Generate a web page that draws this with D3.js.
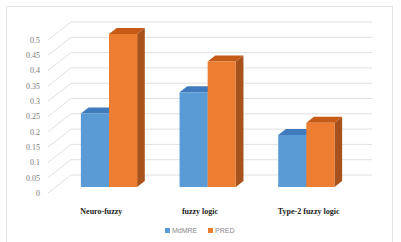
<!DOCTYPE html>
<html><head><meta charset="utf-8">
<script src="https://cdnjs.cloudflare.com/ajax/libs/d3/7.8.5/d3.min.js"></script>
<style>body{margin:0;background:#fff}svg{display:block}</style>
</head><body>
<script>
const categories = ["Neuro-fuzzy", "fuzzy logic", "Type-2 fuzzy logic"];
const seriesNames = ["MdMRE", "PRED"];
const mdmre = [0.24, 0.31, 0.17];
const pred = [0.5, 0.41, 0.21];
const yTicks = [0, 0.05, 0.1, 0.15, 0.2, 0.25, 0.3, 0.35, 0.4, 0.45, 0.5];
const yTickLabels = ["0", "0.05", "0.1", "0.15", "0.2", "0.25", "0.3", "0.35", "0.4", "0.45", "0.5"];

const W = 401, H = 242;
const svg = d3.select("body").append("svg").attr("width", W).attr("height", H);

// chart border
svg.append("rect").attr("x", 6.5).attr("y", 6.5).attr("width", 386).attr("height", 240)
  .attr("fill", "#fff").attr("stroke", "#e6e6e6");

const DX = 23, DY = 18; // depth offset (z=1)
const y = d3.scaleLinear().domain([0, 0.5]).range([193, 40]);
const x0 = d3.scaleBand().domain(categories).range([52, 348]).paddingInner(0.43).paddingOuter(0.215);
const x1 = d3.scaleBand().domain(seriesNames).range([0, x0.bandwidth()]);
const P = (x, v, z) => [x + DX * z, y(v) - DY * z];

// gridlines: side wall + back wall
const gLeft = 48, gRight = 349;
const grid = svg.append("g");
yTicks.forEach(t => {
  const pts = [P(gLeft, t, 0), P(gLeft, t, 1), P(gRight, t, 1)];
  grid.append("polyline").attr("points", pts.map(p => p.join(",")).join(" "))
    .attr("fill", "none").attr("stroke", "#e0e0e0").attr("stroke-width", 1);
});

// y tick labels
svg.append("g").selectAll("text").data(yTicks).join("text")
  .attr("x", 40).attr("y", d => y(d)).attr("dy", "0.35em")
  .attr("text-anchor", "end")
  .attr("font-family", "Liberation Serif, serif").attr("font-size", 8)
  .attr("fill", "#7a7a7a").text((d, i) => yTickLabels[i]);

const colors = {
  MdMRE: {front: "#5b9bd5", top: "#3f7bbd", side: "#2f6aa8"},
  PRED: {front: "#ed7d31", top: "#c65a17", side: "#a8521b"}
};
const z1 = 1 / 3, z2 = 2 / 3;
const bars = svg.append("g");
categories.forEach((c, i) => {
  [["MdMRE", mdmre[i]], ["PRED", pred[i]]].forEach(([s, v]) => {
    const xa = x0(c) + x1(s), xb = xa + x1.bandwidth();
    const col = colors[s];
    const poly = pts => bars.append("polygon").attr("points", pts.map(p => p.join(",")).join(" "));
    poly([P(xb, 0, z1), P(xb, v, z1), P(xb, v, z2), P(xb, 0, z2)]).attr("fill", col.side);
    poly([P(xa, v, z1), P(xb, v, z1), P(xb, v, z2), P(xa, v, z2)]).attr("fill", col.top);
    poly([P(xa, 0, z1), P(xb, 0, z1), P(xb, v, z1), P(xa, v, z1)]).attr("fill", col.front);
  });
});

// category labels
svg.append("g").selectAll("text").data(categories).join("text")
  .attr("x", d => x0(d) + x0.bandwidth() / 2 + (d === "Type-2 fuzzy logic" ? 10 : 0))
  .attr("y", 214).attr("text-anchor", "middle")
  .attr("font-family", "Liberation Serif, serif").attr("font-weight", "bold")
  .attr("font-size", 8).attr("fill", "#222").text(d => d);

// legend
const lg = svg.append("g");
const legX = [165, 208];
seriesNames.forEach((s, i) => {
  lg.append("rect").attr("x", legX[i]).attr("y", 228).attr("width", 5).attr("height", 5)
    .attr("fill", colors[s].front);
  lg.append("text").attr("x", legX[i] + 7).attr("y", 230.5).attr("dy", "0.35em")
    .attr("font-family", "Liberation Sans, sans-serif").attr("font-size", 7)
    .attr("fill", "#8a8a8a").text(s);
});
</script>
</body></html>
